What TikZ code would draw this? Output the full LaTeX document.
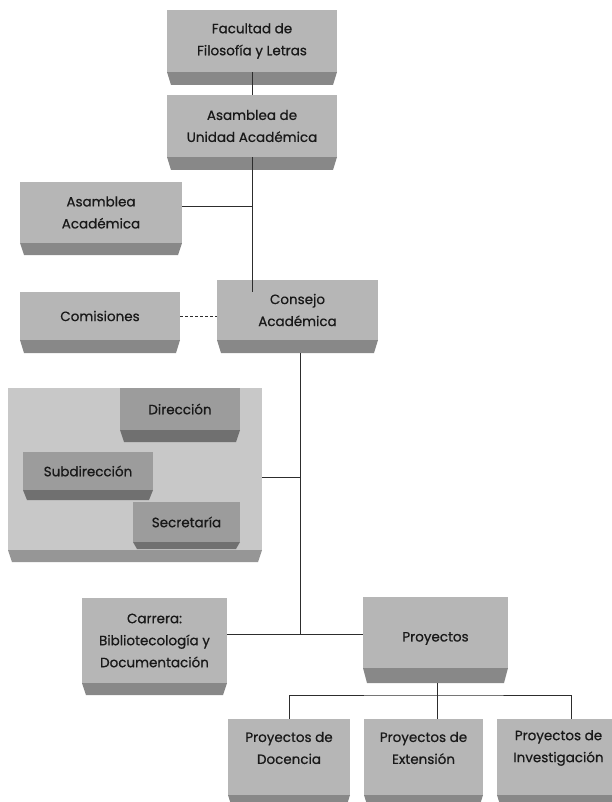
\documentclass[tikz,border=0pt]{standalone}
\usepackage{fontspec}
\setmainfont{Poppins}
\newfontfamily\lblfont{Poppins}[FakeBold=0.6]
\definecolor{stdface}{RGB}{182,182,182}
\definecolor{stdbevel}{RGB}{136,136,136}
\definecolor{panface}{RGB}{200,200,200}
\definecolor{panbevel}{RGB}{150,150,150}
\definecolor{inface}{RGB}{156,156,156}
\definecolor{inbevel}{RGB}{112,112,112}
\definecolor{txt}{RGB}{25,25,25}
\definecolor{ln}{RGB}{45,45,45}
\newcommand\obox[9][]{%
  \fill[fill=#2bevel] ({#4},{#7}) -- ({#6},{#7}) -- ({#6-4},{#8}) -- ({#4+4},{#8}) -- cycle;
  \node[face, fill=#2face, minimum width={(#6-#4)*1pt}, minimum height={(#7-#5)*1pt}] (#3) at ({(#4+#6)/2},{(#5+#7)/2}) {};
  \node[lbl,#1] (#3t) at (#3.center) {#9};
}
\begin{document}
\begin{tikzpicture}[x=1pt,y=-1pt,
  face/.style={rectangle, inner sep=0pt, draw=none},
  lbl/.style={align=center, inner sep=0pt, text=txt, font=\lblfont\fontsize{13.5}{22}\selectfont},
  conn/.style={draw=ln, line width=0.9pt},
  dconn/.style={conn, dashed, dash pattern=on 3pt off 2pt}]
\useasboundingbox (0,0) rectangle (612,802);
\fill[white] (0,0) rectangle (612,802);
% boxes
\obox{std}{fac}{167}{10}{337}{72}{85}{Facultad de\\Filosofía y Letras}
\obox{std}{asu}{167}{95}{337}{157}{170}{Asamblea de\\Unidad Académica}
\obox{std}{asa}{20}{182}{182}{243}{255}{Asamblea\\Académica}
\obox{std}{com}{20}{292}{180}{340}{353}{Comisiones}
\obox{std}{con}{217}{280}{378}{340}{353}{Consejo\\Académica}
\obox{pan}{pnl}{8}{388}{262}{550}{562}{}
\obox{in}{dir}{120}{388}{240}{430}{442}{Dirección}
\obox{in}{sub}{23}{452}{153}{490}{500}{Subdirección}
\obox{in}{sec}{133}{502}{240}{542}{549}{Secretaría}
\obox{std}{car}{82}{598}{227}{683}{695}{Carrera:\\Bibliotecología y\\Documentación}
\obox[yshift=-6pt]{std}{pro}{363}{597}{508}{668}{683}{Proyectos}
\obox[yshift=9pt]{std}{doc}{228}{719}{350}{795}{808}{Proyectos de\\Docencia}
\obox[yshift=9pt]{std}{ext}{364}{719}{483}{795}{808}{Proyectos de\\Extensión}
\obox[yshift=9pt]{std}{inv}{497}{719}{620}{795}{808}{Proyectos de\\Investigación}
% connectors
\coordinate (trk) at (252,292);
\coordinate (j1) at (300,634);
\coordinate (bus) at (437,695);
\draw[conn] (fac.south -| trk) -- (asu.north -| trk);
\draw[conn] (asu.south -| trk) -- (trk);
\draw[conn] (asa.east |- 0,206) -- (trk |- 0,206);
\draw[dconn] (com.east) -- (com.east -| con.west);
\draw[conn] (j1 |- 0,353) -- (j1);
\draw[conn] (pnl.east |- 0,477) -- (j1 |- 0,477);
\draw[conn] (car.east |- j1) -- (pro.west |- j1);
\draw[conn] (bus |- 0,683) -- (bus);
\draw[conn] (doc.north -| 289,0) |- (bus) -| (inv.north -| 571,0);
\draw[conn] (bus) -- (bus |- ext.north);
\end{tikzpicture}
\end{document}
